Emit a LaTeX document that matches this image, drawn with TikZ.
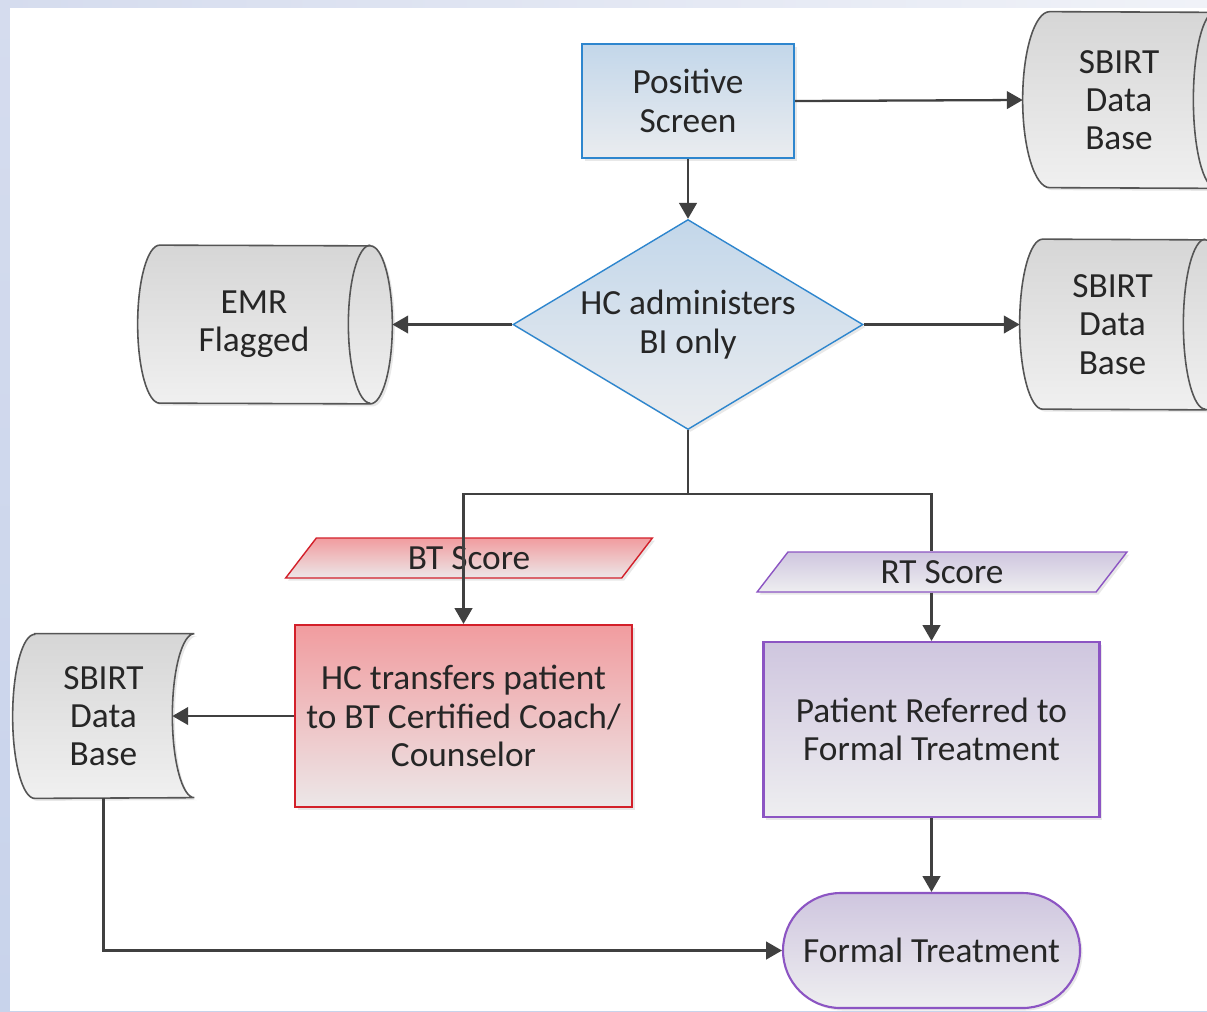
\documentclass[tikz,border=0pt]{standalone}
\usepackage{fontspec}
\setmainfont{Carlito}
\usepackage{xcolor}
\usepackage{tikz}
\usetikzlibrary{shapes}
\usetikzlibrary{shapes.geometric}
\usetikzlibrary{arrows.meta}
\usetikzlibrary{shadows}

\definecolor{blueline}{HTML}{2E86CE}
\definecolor{bluetop}{HTML}{C3D7EA}
\definecolor{bluebot}{HTML}{EAECEF}
\definecolor{redline}{HTML}{D3202A}
\definecolor{redtop}{HTML}{F19C9F}
\definecolor{redbot}{HTML}{ECE7E8}
\definecolor{purpline}{HTML}{8C55C3}
\definecolor{purptop}{HTML}{CFC6DF}
\definecolor{purpbot}{HTML}{EEEEF0}
\definecolor{greyline}{HTML}{555555}
\definecolor{greytop}{HTML}{D6D6D6}
\definecolor{greybot}{HTML}{F0F0F0}
\definecolor{flowline}{HTML}{404040}
\definecolor{inktext}{HTML}{262626}
\definecolor{frameside}{HTML}{C8D3EB}
\definecolor{frametop}{HTML}{D5DCEE}
\definecolor{frameend}{HTML}{F0F2F8}

\pgfdeclarelayer{background}
\pgfsetlayers{background,main}

\newcommand{\diskbody}[4]{%
  \path[greybox] ([xshift=#2]#1.north west) arc[start angle=90, end angle=270, x radius=#2, y radius=#4]
    -- (#1.south east) arc[start angle=-90, end angle=90, x radius=#3, y radius=#4] -- cycle;
  \draw[draw=greyline, line width=0.9pt] (#1.north east) arc[start angle=90, end angle=270, x radius=#3, y radius=#4];
}
\newcommand{\storedbody}[4]{%
  \path[greybox] ([xshift=#2]#1.north west) -- (#1.north east)
    arc[start angle=90, end angle=270, x radius=#3, y radius=#4]
    -- ([xshift=#2]#1.south west) arc[start angle=270, end angle=90, x radius=#2, y radius=#4] -- cycle;
}

\begin{document}
\begin{tikzpicture}[
  every node/.style={font=\fontsize{20.1}{21.8}\selectfont, text=inktext, align=center, inner sep=2pt},
  softshadow/.style={drop shadow={shadow xshift=0.05cm, shadow yshift=-0.05cm, opacity=0.18}},
  bluebox/.style={rectangle, draw=blueline, line width=1.2pt, top color=bluetop, bottom color=bluebot, softshadow},
  decision/.style={diamond, draw=blueline, line width=0.8pt, top color=bluetop, bottom color=bluebot,
    aspect=1.667, inner sep=0pt, minimum width=7cm, minimum height=4.2cm, softshadow},
  redbox/.style={rectangle, draw=redline, line width=1.2pt, top color=redtop, bottom color=redbot, softshadow},
  purplebox/.style={rectangle, draw=purpline, line width=1.2pt, top color=purptop, bottom color=purpbot, softshadow},
  scoreslant/.style={trapezium, trapezium left angle=62, trapezium right angle=118, trapezium stretches=true,
    minimum height=0.8cm, inner sep=0pt, line width=0.8pt, softshadow},
  greybox/.style={draw=greyline, line width=0.9pt, top color=greytop, bottom color=greybot, softshadow},
  store/.style={rectangle, inner sep=0pt},
  flow/.style={draw=flowline, line width=1.3pt},
  flowarrow/.style={flow, -{Triangle[length=9pt, width=10pt]}}
]
  \useasboundingbox (0,0) rectangle (24.14,-20.22);
  \begin{pgfonlayer}{background}
    \shade[top color=frametop, bottom color=frameside] (0,0) rectangle (24.14,-20.22);
    \shade[left color=frametop, right color=frameend] (0,0) rectangle (24.14,-0.16);
    \fill[white] (0.2,-0.16) rectangle (24.14,-20.22);
  \end{pgfonlayer}

  \node[bluebox, minimum width=4.24cm, minimum height=2.28cm] (ps) at (13.76,-2.02) {Positive\\Screen};
  \node[decision] (hc) at (13.76,-6.49) {HC administers\\BI only};
  \node[store, minimum width=3.84cm, minimum height=3.52cm] (db1) at (22.38,-2.0) {SBIRT\\Data\\Base};
  \node[store, minimum width=3.7cm, minimum height=3.4cm] (db2) at (22.25,-6.49) {SBIRT\\Data\\Base};
  \node[store, minimum width=4.64cm, minimum height=3.16cm] (emr) at (5.08,-6.49) {EMR\\Flagged};
  \node[scoreslant, draw=redline, top color=redtop, bottom color=redbot, minimum width=7.36cm] (bts) at (9.38,-11.16) {BT Score};
  \node[scoreslant, draw=purpline, top color=purptop, bottom color=purpbot, minimum width=7.4cm] (rts) at (18.84,-11.44) {RT Score};
  \node[redbox, minimum width=6.74cm, minimum height=3.64cm] (bt) at (9.27,-14.32) {HC transfers patient\\to BT Certified Coach/\\Counselor};
  \node[purplebox, minimum width=6.72cm, minimum height=3.5cm] (pr) at (18.63,-14.59) {Patient Referred to\\Formal Treatment};
  \node[store, minimum width=3.62cm, minimum height=3.28cm] (db3) at (2.07,-14.32) {SBIRT\\Data\\Base};
  \node[purplebox, rounded corners=1.15cm, inner sep=0pt, minimum width=5.94cm, minimum height=2.3cm] (ft) at (18.63,-19.01) {Formal Treatment};

  \begin{pgfonlayer}{background}
    \diskbody{db1}{0.54cm}{0.44cm}{1.76cm}
    \diskbody{db2}{0.46cm}{0.44cm}{1.7cm}
    \diskbody{emr}{0.44cm}{0.44cm}{1.58cm}
    \storedbody{db3}{0.44cm}{0.44cm}{1.64cm}
  \end{pgfonlayer}

  \coordinate (emrtip) at ([xshift=0.44cm]emr.east);
  \coordinate (db3tip) at ([xshift=-0.44cm]db3.east);
  \coordinate (split) at ([yshift=-1.28cm]hc.south);

  \draw[flowarrow] (ps.south) -- (hc.north);
  \draw[flowarrow] (ps.east) -- (db1.west);
  \draw[flowarrow] (hc.west) -- (emrtip);
  \draw[flowarrow] (hc.east) -- (db2.west);
  \draw[flow] (hc.south) -- (split);
  \draw[flowarrow] (split) -| (bt.north);
  \draw[flow] (split) -| (rts.north -| pr.north);
  \draw[flowarrow] (rts.south -| pr.north) -- (pr.north);
  \draw[flowarrow] (bt.west) -- (db3tip);
  \draw[flowarrow] (db3.south) |- (ft.west);
  \draw[flowarrow] (pr.south) -- (ft.north);
\end{tikzpicture}
\end{document}
